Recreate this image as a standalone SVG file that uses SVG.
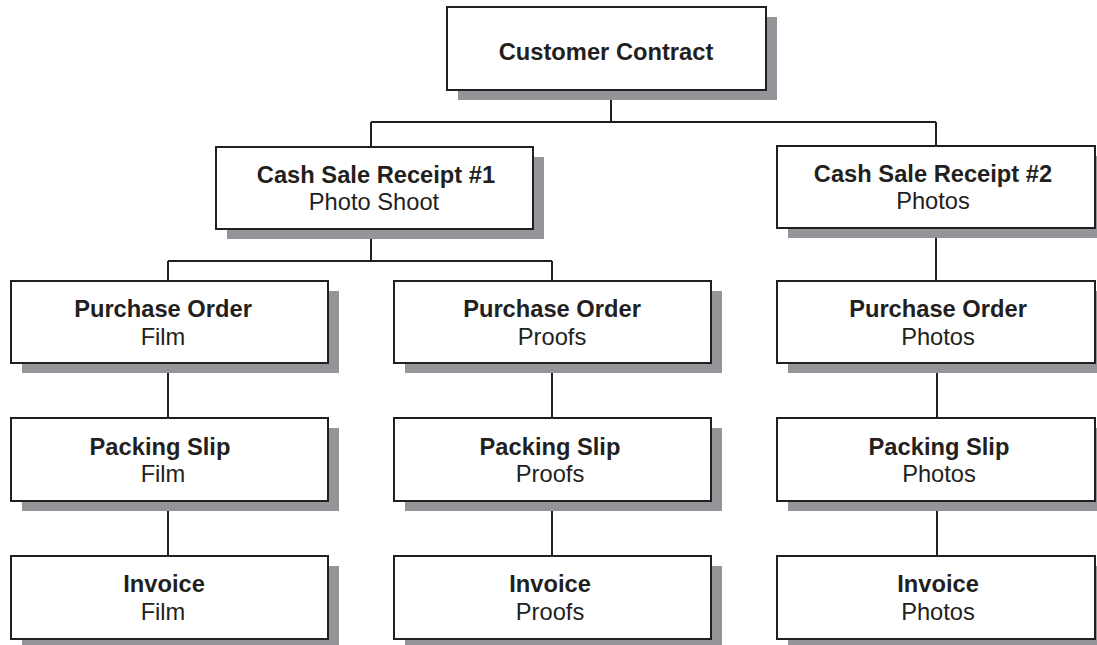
<svg xmlns="http://www.w3.org/2000/svg" width="1097" height="645" viewBox="0 0 1097 645">
<style>
.sh{fill:#939598}
.bx{fill:#fff;stroke:#231f20;stroke-width:2}
.cn{fill:none;stroke:#231f20;stroke-width:2}
text{font-family:"Liberation Sans",Arial,Helvetica,sans-serif;font-size:23.7px;fill:#231f20;text-anchor:middle}
.b{font-weight:bold}
</style>
<rect width="1097" height="645" fill="#fff"/>
<g id="connectors">
<path class="cn" d="M611 90V122M371 122H936M371 122V147M936 122V146"/>
<path class="cn" d="M371 229V261M168 261H552M168 261V281M552 261V281"/>
<path class="cn" d="M936 228V281"/>
<path class="cn" d="M168 363V418M168 501V556"/>
<path class="cn" d="M552 363V418M552 501V556"/>
<path class="cn" d="M937 363V418M937 501V556"/>
</g>
<g id="customer-contract">
<rect class="sh" x="458" y="17" width="319" height="83"/>
<rect class="bx" x="447" y="7" width="319" height="83"/>
<text class="b" x="606" y="60">Customer Contract</text>
</g>
<g id="cash-sale-1">
<rect class="sh" x="227" y="157" width="317" height="82"/>
<rect class="bx" x="216" y="147" width="317" height="82"/>
<text class="b" x="376" y="183">Cash Sale Receipt #1</text>
<text x="374" y="210">Photo Shoot</text>
</g>
<g id="cash-sale-2">
<rect class="sh" x="788" y="156" width="318" height="82"/>
<rect class="bx" x="777" y="146" width="318" height="82"/>
<text class="b" x="933" y="182">Cash Sale Receipt #2</text>
<text x="933" y="209">Photos</text>
</g>
<g id="po-film">
<rect class="sh" x="22" y="291" width="317" height="82"/>
<rect class="bx" x="11" y="281" width="317" height="82"/>
<text class="b" x="163" y="317">Purchase Order</text>
<text x="163" y="345">Film</text>
</g>
<g id="po-proofs">
<rect class="sh" x="405" y="291" width="317" height="82"/>
<rect class="bx" x="394" y="281" width="317" height="82"/>
<text class="b" x="552" y="317">Purchase Order</text>
<text x="552" y="345">Proofs</text>
</g>
<g id="po-photos">
<rect class="sh" x="788" y="291" width="318" height="82"/>
<rect class="bx" x="777" y="281" width="318" height="82"/>
<text class="b" x="938" y="317">Purchase Order</text>
<text x="938" y="345">Photos</text>
</g>
<g id="ps-film">
<rect class="sh" x="22" y="428" width="317" height="83"/>
<rect class="bx" x="11" y="418" width="317" height="83"/>
<text class="b" x="160" y="455">Packing Slip</text>
<text x="163" y="482">Film</text>
</g>
<g id="ps-proofs">
<rect class="sh" x="405" y="428" width="317" height="83"/>
<rect class="bx" x="394" y="418" width="317" height="83"/>
<text class="b" x="550" y="455">Packing Slip</text>
<text x="550" y="482">Proofs</text>
</g>
<g id="ps-photos">
<rect class="sh" x="788" y="428" width="318" height="83"/>
<rect class="bx" x="777" y="418" width="318" height="83"/>
<text class="b" x="939" y="455">Packing Slip</text>
<text x="939" y="482">Photos</text>
</g>
<g id="inv-film">
<rect class="sh" x="22" y="566" width="317" height="83"/>
<rect class="bx" x="11" y="556" width="317" height="83"/>
<text class="b" x="164" y="592">Invoice</text>
<text x="163" y="620">Film</text>
</g>
<g id="inv-proofs">
<rect class="sh" x="405" y="566" width="317" height="83"/>
<rect class="bx" x="394" y="556" width="317" height="83"/>
<text class="b" x="550" y="592">Invoice</text>
<text x="550" y="620">Proofs</text>
</g>
<g id="inv-photos">
<rect class="sh" x="788" y="566" width="318" height="83"/>
<rect class="bx" x="777" y="556" width="318" height="83"/>
<text class="b" x="938" y="592">Invoice</text>
<text x="938" y="620">Photos</text>
</g>
</svg>
